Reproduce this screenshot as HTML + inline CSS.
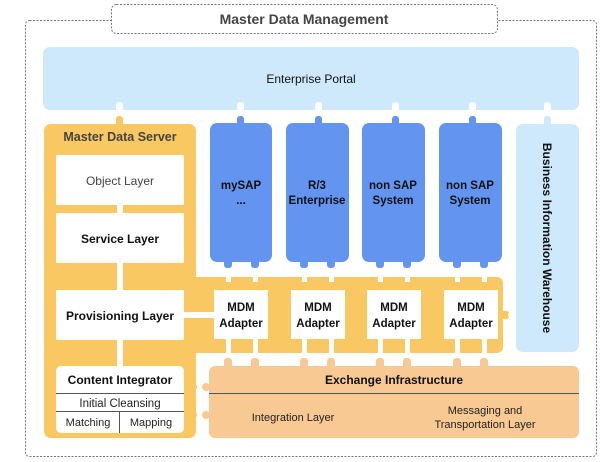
<!DOCTYPE html>
<html><head><meta charset="utf-8"><style>
html,body{margin:0;padding:0;background:#fff}
svg{display:block}
text{font-family:"Liberation Sans",Arial,sans-serif}
</style></head><body>
<svg width="607" height="462" viewBox="0 0 607 462" xmlns="http://www.w3.org/2000/svg">
<rect x="25.5" y="20.5" width="571" height="436" rx="4" fill="#fff" stroke="#777" stroke-dasharray="2,1.5"/>
<rect x="111.5" y="4.5" width="386" height="29" rx="5" fill="#fff" stroke="#777" stroke-dasharray="2,1.5"/>
<text x="304" y="24" text-anchor="middle" font-size="14" font-weight="bold" fill="#444">Master Data Management</text>

<rect x="43" y="47" width="536" height="63" rx="7" fill="#cde9fb"/>
<text x="311" y="83" text-anchor="middle" font-size="12" fill="#111">Enterprise Portal</text>
<g fill="#fff">
<rect x="116" y="102" width="7" height="10" rx="3"/><rect x="237" y="102" width="7" height="10" rx="3"/>
<rect x="315" y="102" width="7" height="10" rx="3"/><rect x="392" y="102" width="7" height="10" rx="3"/>
<rect x="469" y="102" width="7" height="10" rx="3"/><rect x="544" y="102" width="7" height="10" rx="3"/>
</g>
<rect x="544" y="116" width="7" height="12" rx="3" fill="#cde9fb"/>

<rect x="44" y="124" width="152" height="314" rx="7" fill="#f9c862"/>
<rect x="116" y="116" width="7" height="12" rx="3" fill="#f9c862"/>
<text x="120" y="141" text-anchor="middle" font-size="12.5" font-weight="bold" fill="#444">Master Data Server</text>
<rect x="56" y="155" width="128" height="50" fill="#fff"/>
<text x="120" y="185" text-anchor="middle" font-size="12" fill="#444">Object Layer</text>
<rect x="56" y="213" width="128" height="50" fill="#fff"/>
<text x="120" y="243" text-anchor="middle" font-size="12" font-weight="bold" fill="#111">Service Layer</text>
<rect x="117" y="203" width="6" height="12" fill="#fff"/>
<rect x="117" y="261" width="6" height="31" fill="#fff"/>
<rect x="56" y="290" width="128" height="50" fill="#fff"/>
<text x="120" y="320" text-anchor="middle" font-size="12" font-weight="bold" fill="#111">Provisioning Layer</text>
<rect x="117" y="338" width="6" height="30" fill="#fff"/>
<rect x="56" y="366" width="128" height="67" rx="5" fill="#fff"/>
<text x="120" y="384" text-anchor="middle" font-size="12" font-weight="bold" fill="#111">Content Integrator</text>
<line x1="56" y1="393.5" x2="184" y2="393.5" stroke="#555"/>
<text x="120" y="407" text-anchor="middle" font-size="11.5" fill="#222">Initial Cleansing</text>
<line x1="56" y1="411.5" x2="184" y2="411.5" stroke="#555"/>
<line x1="119.5" y1="411" x2="119.5" y2="433" stroke="#555"/>
<text x="88" y="426" text-anchor="middle" font-size="11" fill="#222">Matching</text>
<text x="151" y="426" text-anchor="middle" font-size="11" fill="#222">Mapping</text>

<rect x="190" y="277" width="313" height="76" rx="6" fill="#f9c862"/>
<rect x="498" y="311" width="12" height="8" rx="4" fill="#f9c862"/>
<circle cx="512" cy="315" r="4" fill="#fff"/>

<g fill="#6395f0">
<rect x="210" y="123" width="62" height="139" rx="7"/>
<rect x="286" y="123" width="63" height="139" rx="7"/>
<rect x="362" y="123" width="63" height="139" rx="7"/>
<rect x="439" y="123" width="63" height="139" rx="7"/>
<rect x="237" y="116" width="7" height="10" rx="3"/><rect x="315" y="116" width="7" height="10" rx="3"/>
<rect x="392" y="116" width="7" height="10" rx="3"/><rect x="469" y="116" width="7" height="10" rx="3"/>
<rect x="224" y="258" width="8" height="10" rx="3"/><rect x="251" y="258" width="8" height="10" rx="3"/>
<rect x="300" y="258" width="8" height="10" rx="3"/><rect x="327" y="258" width="8" height="10" rx="3"/>
<rect x="376" y="258" width="8" height="10" rx="3"/><rect x="403" y="258" width="8" height="10" rx="3"/>
<rect x="453" y="258" width="8" height="10" rx="3"/><rect x="480" y="258" width="8" height="10" rx="3"/>
</g>
<g fill="#111" font-size="11.5" font-weight="bold" text-anchor="middle">
<text x="241" y="189">mySAP</text><text x="241" y="204">...</text>
<text x="317" y="189">R/3</text><text x="317" y="204">Enterprise</text>
<text x="393" y="189">non SAP</text><text x="393" y="204">System</text>
<text x="470" y="189">non SAP</text><text x="470" y="204">System</text>
</g>
<g fill="#fff">
<rect x="226" y="268" width="5" height="14"/><rect x="253" y="268" width="5" height="14"/>
<rect x="302" y="268" width="5" height="14"/><rect x="329" y="268" width="5" height="14"/>
<rect x="378" y="268" width="5" height="14"/><rect x="405" y="268" width="5" height="14"/>
<rect x="455" y="268" width="5" height="14"/><rect x="482" y="268" width="5" height="14"/>
<rect x="226" y="338" width="5" height="22"/><rect x="253" y="338" width="5" height="22"/>
<rect x="302" y="338" width="5" height="22"/><rect x="329" y="338" width="5" height="22"/>
<rect x="378" y="338" width="5" height="22"/><rect x="405" y="338" width="5" height="22"/>
<rect x="455" y="338" width="5" height="22"/><rect x="482" y="338" width="5" height="22"/>
<rect x="196" y="353" width="310" height="6"/>
<rect x="214" y="290" width="54" height="49"/>
<rect x="291" y="290" width="54" height="49"/>
<rect x="367" y="290" width="54" height="49"/>
<rect x="444" y="290" width="54" height="49"/>
<rect x="184" y="312" width="30" height="6"/>
</g>
<g fill="#111" font-size="11.5" font-weight="bold" text-anchor="middle">
<text x="241" y="311">MDM</text><text x="241" y="327">Adapter</text>
<text x="318" y="311">MDM</text><text x="318" y="327">Adapter</text>
<text x="394" y="311">MDM</text><text x="394" y="327">Adapter</text>
<text x="471" y="311">MDM</text><text x="471" y="327">Adapter</text>
</g>

<rect x="516" y="124" width="63" height="228" rx="7" fill="#cde9fb"/>
<text transform="translate(543,238) rotate(90)" text-anchor="middle" font-size="12" font-weight="bold" fill="#111">Business Information Warehouse</text>

<g fill="#f9c994">
<rect x="209" y="366" width="370" height="72" rx="6"/>
<rect x="224" y="358" width="8" height="12" rx="3"/><rect x="251" y="358" width="8" height="12" rx="3"/>
<rect x="300" y="358" width="8" height="12" rx="3"/><rect x="327" y="358" width="8" height="12" rx="3"/>
<rect x="376" y="358" width="8" height="12" rx="3"/><rect x="403" y="358" width="8" height="12" rx="3"/>
<rect x="453" y="358" width="8" height="12" rx="3"/><rect x="480" y="358" width="8" height="12" rx="3"/>
<circle cx="206" cy="387" r="4"/><circle cx="206" cy="415" r="4"/>
</g>
<circle cx="194" cy="387" r="3" fill="#f9c862"/><circle cx="194" cy="415" r="3" fill="#f9c862"/>
<line x1="209" y1="393.5" x2="579" y2="393.5" stroke="#555"/>
<text x="394" y="384" text-anchor="middle" font-size="12" font-weight="bold" fill="#111">Exchange Infrastructure</text>
<text x="293" y="421" text-anchor="middle" font-size="11" fill="#222">Integration Layer</text>
<text x="485" y="414" text-anchor="middle" font-size="11" fill="#222">Messaging and</text>
<text x="485" y="428" text-anchor="middle" font-size="11" fill="#222">Transportation Layer</text>
</svg>
</body></html>
